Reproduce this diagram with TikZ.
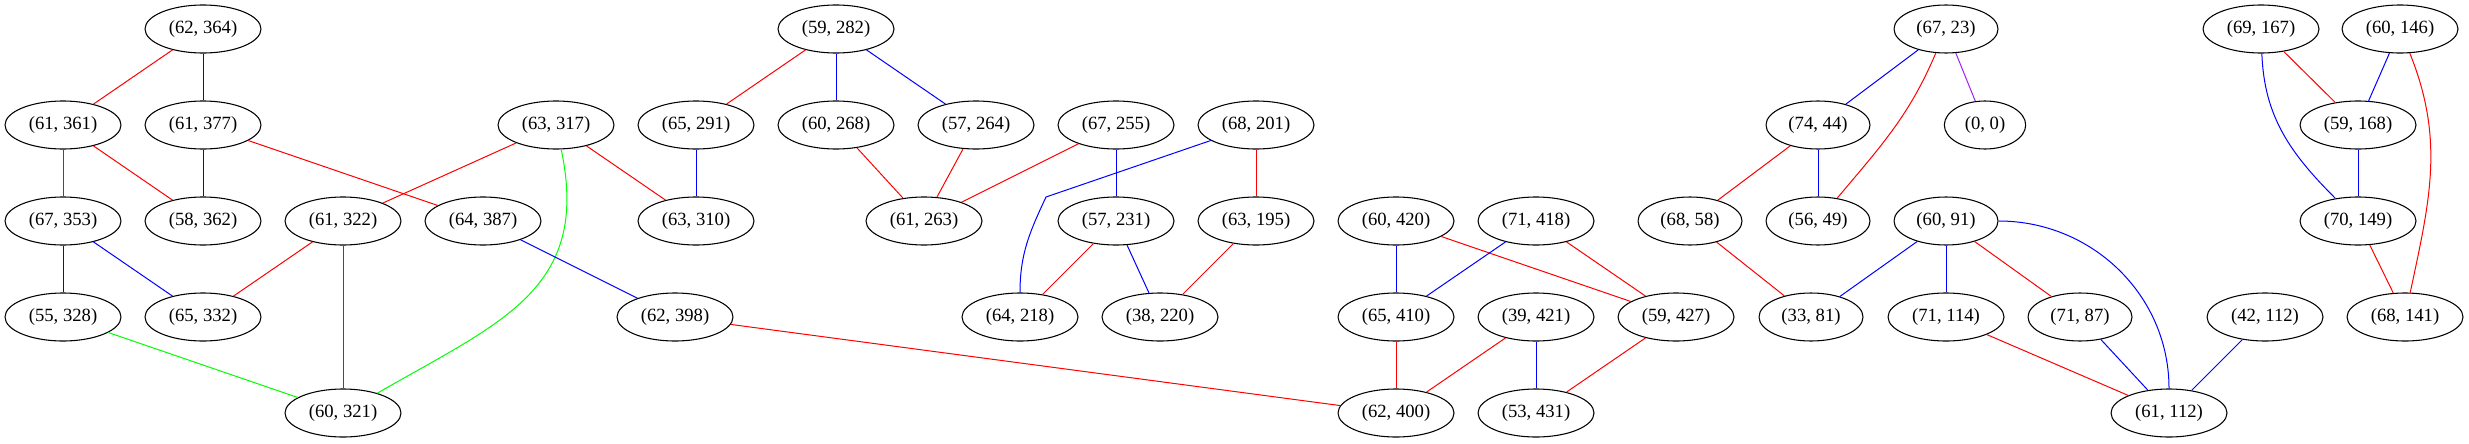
\documentclass[tikz,border=0pt]{standalone}
\usepackage{fontspec}
\setmainfont{Liberation Serif}
\usepackage{tikz}
\usetikzlibrary{arrows,shapes.geometric}
\definecolor{lila}{rgb}{0.627,0.125,0.941}

\begin{document}
\begin{tikzpicture}[line join=round,x=0.75pt,y=-0.75pt,
     knoten/.style={ellipse,draw=black,line width=0.8pt,inner sep=0pt,minimum width=87pt,minimum height=36pt,font=\fontsize{14}{16}\selectfont},
     kurz/.style={knoten,minimum width=78pt},
     rot/.style={draw=red,line width=0.75pt},
     blau/.style={draw=blue,line width=0.75pt},
     gruen/.style={draw=green,line width=0.75pt},
     violett/.style={draw=lila,line width=0.75pt}]
     \useasboundingbox (0,0) rectangle (2469,443); % Rand

     % Reihe 1
     \node[knoten] (n62364) at (203,29)  {(62, 364)};
     \node[knoten] (n59282) at (836,29)  {(59, 282)};
     \node[kurz]   (n6723)  at (1946,29) {(67, 23)};
     \node[knoten] (n69167) at (2261,29) {(69, 167)};
     \node[knoten] (n60146) at (2400,29) {(60, 146)};
     % Reihe 2
     \node[knoten] (n61361) at (63,125)   {(61, 361)};
     \node[knoten] (n61377) at (203,125)  {(61, 377)};
     \node[knoten] (n63317) at (556,125)  {(63, 317)};
     \node[knoten] (n65291) at (696,125)  {(65, 291)};
     \node[knoten] (n60268) at (836,125)  {(60, 268)};
     \node[knoten] (n57264) at (976,125)  {(57, 264)};
     \node[knoten] (n67255) at (1116,125) {(67, 255)};
     \node[knoten] (n68201) at (1256,125) {(68, 201)};
     \node[kurz]   (n7444)  at (1818,125) {(74, 44)};
     \node[knoten,minimum width=61pt] (n00) at (1985,125) {(0, 0)};
     \node[knoten] (n59168) at (2358,125) {(59, 168)};
     % Reihe 3
     \node[knoten] (n67353) at (63,221)   {(67, 353)};
     \node[knoten] (n58362) at (203,221)  {(58, 362)};
     \node[knoten] (n61322) at (343,221)  {(61, 322)};
     \node[knoten] (n64387) at (483,221)  {(64, 387)};
     \node[knoten] (n63310) at (696,221)  {(63, 310)};
     \node[knoten] (n61263) at (924,221)  {(61, 263)};
     \node[knoten] (n57231) at (1116,221) {(57, 231)};
     \node[knoten] (n63195) at (1256,221) {(63, 195)};
     \node[knoten] (n60420) at (1396,221) {(60, 420)};
     \node[knoten] (n71418) at (1536,221) {(71, 418)};
     \node[kurz]   (n6858)  at (1690,221) {(68, 58)};
     \node[kurz]   (n5649)  at (1818,221) {(56, 49)};
     \node[kurz]   (n6091)  at (1946,221) {(60, 91)};
     \node[knoten] (n70149) at (2358,221) {(70, 149)};
     % Reihe 4
     \node[knoten] (n55328) at (63,317)   {(55, 328)};
     \node[knoten] (n65332) at (203,317)  {(65, 332)};
     \node[knoten] (n62398) at (675,317)  {(62, 398)};
     \node[knoten] (n64218) at (1020,317) {(64, 218)};
     \node[knoten] (n38220) at (1160,317) {(38, 220)};
     \node[knoten] (n65410) at (1396,317) {(65, 410)};
     \node[knoten] (n39421) at (1536,317) {(39, 421)};
     \node[knoten] (n59427) at (1676,317) {(59, 427)};
     \node[kurz]   (n3381)  at (1811,317) {(33, 81)};
     \node[knoten] (n71114) at (1946,317) {(71, 114)};
     \node[kurz]   (n7187)  at (2080,317) {(71, 87)};
     \node[knoten] (n42112) at (2265,317) {(42, 112)};
     \node[knoten] (n68141) at (2405,317) {(68, 141)};
     % Reihe 5
     \node[knoten] (n60321) at (343,413)  {(60, 321)};
     \node[knoten] (n62400) at (1396,413) {(62, 400)};
     \node[knoten] (n53431) at (1536,413) {(53, 431)};
     \node[knoten] (n61112) at (2169,413) {(61, 112)};
     \coordinate (knick) at (1046,197); % Knick der Kante

     % Kanten links
     \draw[rot]  (n62364) -- (n61361);
     \draw[blau] (n62364) -- (n61377);
     \draw[rot]  (n61361) -- (n67353);
     \draw[rot]  (n61361) -- (n58362);
     \draw[blau] (n61377) -- (n58362);
     \draw[rot]  (n61377) -- (n64387);
     \draw[rot]  (n63317) -- (n61322);
     \draw[gruen] (n63317) to[out=-78,in=30,looseness=1.2] (n60321); % Bogen
     \draw[rot]  (n63317) -- (n63310);
     \draw[blau] (n67353) -- (n55328);
     \draw[blau] (n67353) -- (n65332);
     \draw[rot]  (n61322) -- (n65332);
     \draw[rot]  (n61322) -- (n60321);
     \draw[blau] (n64387) -- (n62398);
     \draw[gruen] (n55328) -- (n60321);
     % Kanten mitte
     \draw[rot]  (n59282) -- (n65291);
     \draw[blau] (n59282) -- (n60268);
     \draw[blau] (n59282) -- (n57264);
     \draw[blau] (n65291) -- (n63310);
     \draw[rot]  (n60268) -- (n61263);
     \draw[rot]  (n57264) -- (n61263);
     \draw[rot]  (n67255) -- (n61263);
     \draw[blau] (n67255) -- (n57231);
     \draw[blau] (n68201) -- (knick) to[out=-115,in=90] (n64218);
     \draw[rot]  (n68201) -- (n63195);
     \draw[rot]  (n57231) -- (n64218);
     \draw[blau] (n57231) -- (n38220);
     \draw[rot]  (n63195) -- (n38220);
     \draw[rot]  (n62398) -- (n62400);
     \draw[blau] (n60420) -- (n65410);
     \draw[rot]  (n60420) -- (n59427);
     \draw[blau] (n71418) -- (n65410);
     \draw[rot]  (n71418) -- (n59427);
     \draw[rot]  (n65410) -- (n62400);
     \draw[rot]  (n39421) -- (n62400);
     \draw[blau] (n39421) -- (n53431);
     \draw[rot]  (n59427) -- (n53431);
     % Kanten rechts
     \draw[blau] (n6723) -- (n7444);
     \draw[rot]  (n6723) to[out=-113,in=50] (n5649);
     \draw[violett] (n6723) -- (n00);
     \draw[rot]  (n7444) -- (n6858);
     \draw[blau] (n7444) -- (n5649);
     \draw[rot]  (n6858) -- (n3381);
     \draw[blau] (n6091) -- (n3381);
     \draw[blau] (n6091) -- (n71114);
     \draw[rot]  (n6091) -- (n7187);
     \draw[blau] (n6091) to[out=0,in=90] (n61112);
     \draw[rot]  (n71114) -- (n61112);
     \draw[blau] (n7187) -- (n61112);
     \draw[blau] (n42112) -- (n61112);
     \draw[rot]  (n69167) -- (n59168);
     \draw[blau] (n69167) to[out=-88,in=135] (n70149);
     \draw[blau] (n60146) -- (n59168);
     \draw[rot]  (n60146) to[out=-68,in=78] (n68141);
     \draw[blau] (n59168) -- (n70149);
     \draw[rot]  (n70149) -- (n68141);
\end{tikzpicture}
\end{document}
